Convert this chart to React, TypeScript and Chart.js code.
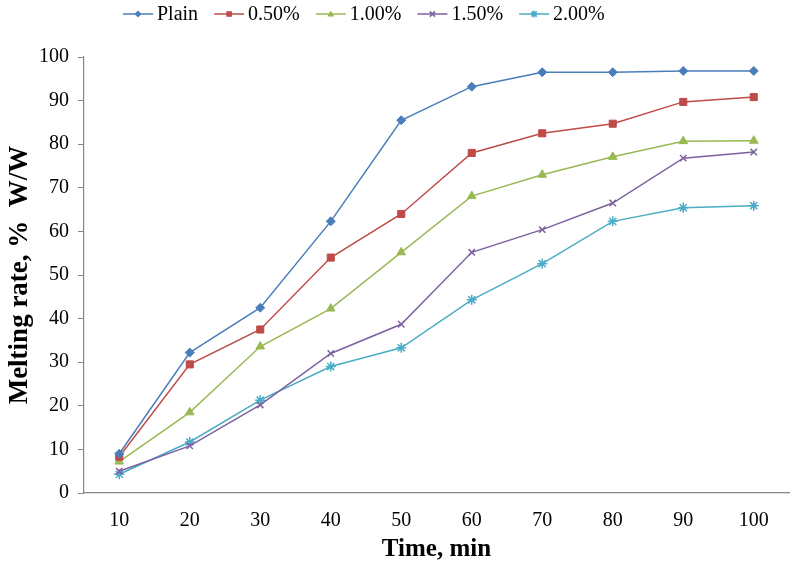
import React, { useEffect, useRef } from "react";
import { Chart, registerables } from "chart.js";

Chart.register(...registerables);

const categories = ["10", "20", "30", "40", "50", "60", "70", "80", "90", "100"];
const seriesNames = ["Plain", "0.50%", "1.00%", "1.50%", "2.00%"];
const plain = [9.0, 32.2, 42.5, 62.3, 85.5, 93.2, 96.5, 96.5, 96.8, 96.8];
const p050 = [8.3, 29.5, 37.5, 54.0, 64.0, 78.0, 82.5, 84.7, 89.7, 90.8];
const p100 = [7.2, 18.5, 33.6, 42.3, 55.2, 68.1, 73.0, 77.1, 80.7, 80.8];
const p150 = [5.0, 10.8, 20.2, 32.0, 38.7, 55.2, 60.4, 66.5, 76.8, 78.2];
const p200 = [4.3, 11.7, 21.3, 29.0, 33.3, 44.3, 52.6, 62.3, 65.4, 65.9];
const yTicks = [0, 10, 20, 30, 40, 50, 60, 70, 80, 90, 100];

const seriesData = [plain, p050, p100, p150, p200];
const colors = ["#4A7EBB", "#BE4B48", "#98B954", "#7D60A0", "#4BACC6"];
const markers = ["rectRot", "rect", "triangle", "crossRot", "star"];
const radii = [4.5, 5, 5, 4.5, 5];

const FONT = "'Liberation Serif', 'Times New Roman', serif";

function drawMarker(ctx: CanvasRenderingContext2D, style: string, x: number, y: number, r: number, color: string) {
  ctx.save();
  ctx.fillStyle = color;
  ctx.strokeStyle = color;
  ctx.lineWidth = 1.5;
  ctx.beginPath();
  if (style === "rectRot") {
    ctx.moveTo(x, y - r); ctx.lineTo(x + r, y); ctx.lineTo(x, y + r); ctx.lineTo(x - r, y); ctx.closePath(); ctx.fill();
  } else if (style === "rect") {
    const s = r * 0.8;
    ctx.rect(x - s, y - s, 2 * s, 2 * s); ctx.fill();
  } else if (style === "triangle") {
    ctx.moveTo(x, y - r); ctx.lineTo(x + r, y + r * 0.7); ctx.lineTo(x - r, y + r * 0.7); ctx.closePath(); ctx.fill();
  } else if (style === "crossRot") {
    const s = r * 0.75;
    ctx.moveTo(x - s, y - s); ctx.lineTo(x + s, y + s); ctx.moveTo(x + s, y - s); ctx.lineTo(x - s, y + s); ctx.stroke();
  } else {
    const s = r * 0.75;
    ctx.moveTo(x - s, y - s); ctx.lineTo(x + s, y + s); ctx.moveTo(x + s, y - s); ctx.lineTo(x - s, y + s);
    ctx.moveTo(x - r, y); ctx.lineTo(x + r, y); ctx.moveTo(x, y - r); ctx.lineTo(x, y + r); ctx.stroke();
  }
  ctx.restore();
}

const legendPlugin = {
  id: "customLegend",
  afterDraw(chart: any) {
    const ctx = chart.ctx as CanvasRenderingContext2D;
    ctx.save();
    ctx.font = `20px ${FONT}`;
    ctx.textBaseline = "middle";
    const y = 14;
    const lineW = 30;
    const gapText = 4;
    const gapItem = 16;
    let x = 123;
    seriesNames.forEach((name, i) => {
      ctx.strokeStyle = colors[i];
      ctx.lineWidth = 1.5;
      ctx.beginPath();
      ctx.moveTo(x, y);
      ctx.lineTo(x + lineW, y);
      ctx.stroke();
      drawMarker(ctx, markers[i], x + lineW / 2, y, 3.5, colors[i]);
      ctx.fillStyle = "#000";
      ctx.textAlign = "left";
      ctx.fillText(name, x + lineW + gapText, y + 1);
      x += lineW + gapText + ctx.measureText(name).width + gapItem;
    });
    ctx.restore();
  },
};

export default function App() {
  const ref = useRef<HTMLCanvasElement>(null);
  useEffect(() => {
    document.body.style.margin = "0";
    const chart = new Chart(ref.current!, {
      type: "line",
      data: {
        labels: categories,
        datasets: seriesData.map((d, i) => ({
          label: seriesNames[i],
          data: d,
          borderColor: colors[i],
          backgroundColor: colors[i],
          pointBackgroundColor: colors[i],
          pointBorderColor: colors[i],
          pointStyle: markers[i] as any,
          pointRadius: radii[i],
          pointBorderWidth: markers[i] === "crossRot" || markers[i] === "star" ? 1.5 : 1,
          borderWidth: 1.5,
          tension: 0,
          fill: false,
        })),
      },
      options: {
        animation: false,
        responsive: true,
        maintainAspectRatio: false,
        layout: { padding: { top: 57, right: 10, left: 0, bottom: 0 } },
        plugins: {
          legend: { display: false },
          tooltip: { enabled: false },
        },
        scales: {
          x: {
            offset: true,
            grid: { drawOnChartArea: false, drawTicks: false },
            border: { display: true, color: "#868686", width: 1.2 },
            ticks: { color: "#000", font: { family: FONT, size: 20 }, padding: 16, maxRotation: 0 },
            title: {
              display: true,
              text: "Time, min",
              color: "#000",
              font: { family: FONT, size: 25, weight: "bold" },
              padding: { top: 0, bottom: 1 },
            },
            afterFit: (s: any) => { s.height = 73; },
          },
          y: {
            min: 0,
            max: 100,
            afterBuildTicks: (s: any) => { s.ticks = yTicks.map((v) => ({ value: v })); },
            grid: { drawOnChartArea: false, drawTicks: true, tickLength: 6, color: "#868686" },
            border: { display: true, color: "#868686", width: 1.2 },
            ticks: { color: "#000", font: { family: FONT, size: 20 }, padding: 9 },
            title: {
              display: true,
              text: "Melting rate, %  W/W",
              color: "#000",
              font: { family: FONT, size: 27, weight: "bold" },
              padding: { top: 4, bottom: 0 },
            },
            afterFit: (s: any) => { s.width = 84; },
          },
        },
      },
      plugins: [legendPlugin],
    });
    return () => chart.destroy();
  }, []);
  return (
    <div style={{ position: "absolute", left: 0, top: 0, width: 799, height: 566 }}>
      <canvas ref={ref} />
    </div>
  );
}
